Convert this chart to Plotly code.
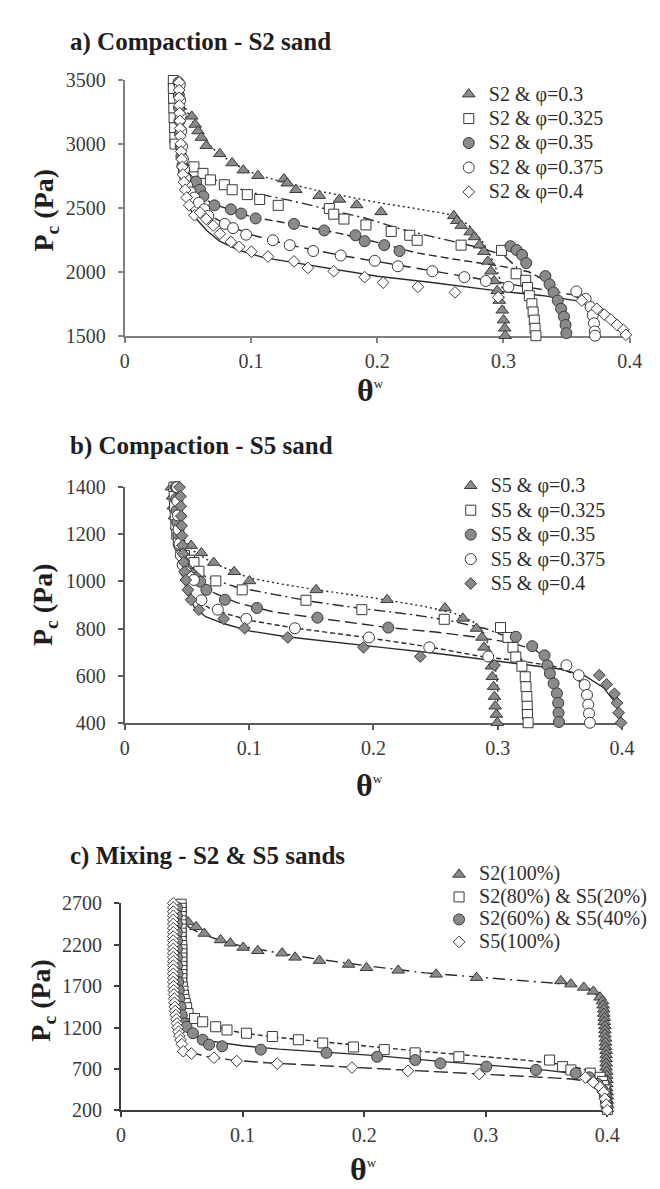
import plotly.graph_objects as go

W, H = 660, 1189
FONT = "Liberation Serif, Times New Roman, Tinos, Nimbus Roman, DejaVu Serif, serif"

# ---------------- Panel a: Compaction - S2 sand ----------------
a_x_ticks = [0, 0.1, 0.2, 0.3, 0.4]
a_x_labels = ["0", "0.1", "0.2", "0.3", "0.4"]
a_y_ticks = [1500, 2000, 2500, 3000, 3500]
a_y_labels = ["1500", "2000", "2500", "3000", "3500"]
a_names = ["S2 & φ=0.3", "S2 & φ=0.325", "S2 & φ=0.35", "S2 & φ=0.375", "S2 & φ=0.4"]

a_p300_x = [0.053, 0.0557, 0.058, 0.0606, 0.0645, 0.0752, 0.085, 0.0938, 0.1055, 0.126, 0.1287, 0.1355, 0.154, 0.170,
            0.1837, 0.203, 0.2606, 0.263, 0.2665, 0.2736, 0.277, 0.281, 0.2844, 0.2876, 0.29, 0.2925, 0.295, 0.2967,
            0.299, 0.300, 0.301, 0.3013]
a_p300_y = [3215, 3151, 3100, 3049, 2985, 2922, 2850, 2794, 2751, 2725, 2692, 2641, 2595, 2565, 2522, 2468, 2437, 2399,
            2361, 2310, 2272, 2208, 2157, 2081, 2004, 1928, 1851, 1775, 1699, 1622, 1558, 1500]
a_p325_x = [0.0384, 0.0384, 0.0386, 0.0388, 0.039, 0.0394, 0.0396, 0.0398, 0.0547, 0.0619, 0.0678, 0.0788, 0.085,
            0.097, 0.1068, 0.1215, 0.162, 0.1655, 0.1736, 0.191, 0.211, 0.2257, 0.2316, 0.2664, 0.2984, 0.310, 0.3176,
            0.319, 0.3205, 0.3225, 0.3235, 0.3244, 0.325, 0.3257]
a_p325_y = [3495, 3431, 3355, 3278, 3202, 3125, 3049, 2998, 2820, 2769, 2718, 2680, 2641, 2603, 2565, 2519, 2494, 2450,
            2412, 2366, 2315, 2285, 2246, 2208, 2167, 1984, 1933, 1877, 1813, 1750, 1686, 1622, 1558, 1500]
a_p350_x = [0.0425, 0.0428, 0.043, 0.0433, 0.0437, 0.0442, 0.0448, 0.0456, 0.0466, 0.048, 0.050,
            0.0564, 0.0596, 0.0622, 0.071, 0.084, 0.0922, 0.1036, 0.134, 0.158, 0.1827, 0.19, 0.2055, 0.2176, 0.3055,
            0.3104, 0.3147, 0.318, 0.3332, 0.3365, 0.3397, 0.343, 0.3456, 0.3479, 0.3492, 0.3498]
a_p350_y = [3480, 3380, 3280, 3180, 3080, 2980, 2900, 2830, 2780, 2740, 2720,
            2705, 2641, 2590, 2519, 2488, 2455, 2417, 2374, 2323, 2285, 2239, 2208, 2162, 2200, 2170, 2132, 2068, 1966,
            1902, 1839, 1775, 1711, 1648, 1584, 1520]
a_p375_x = [0.0435, 0.0438, 0.0442, 0.0447, 0.0453, 0.046, 0.047, 0.048, 0.0495, 0.052, 0.055,
            0.0586, 0.0629, 0.0661, 0.0792, 0.0857, 0.0961, 0.1173, 0.1306, 0.1492, 0.171, 0.198, 0.2163, 0.2436, 0.269,
            0.286, 0.3039, 0.3577, 0.3651, 0.369, 0.3707, 0.3717, 0.3723, 0.3725]
a_p375_y = [3460, 3340, 3220, 3100, 2980, 2880, 2800, 2730, 2670, 2620, 2580,
            2539, 2488, 2437, 2374, 2341, 2290, 2246, 2208, 2162, 2127, 2086, 2043, 2004, 1958, 1928, 1882, 1846, 1788,
            1724, 1660, 1597, 1533, 1500]
a_p400_x = [0.043, 0.043, 0.043, 0.0432, 0.0434, 0.0436, 0.0438, 0.044, 0.0443, 0.0446, 0.045, 0.0455, 0.046, 0.0468,
            0.0478, 0.049, 0.051, 0.0552, 0.0596, 0.0645, 0.070, 0.0752, 0.084, 0.0906, 0.1003, 0.1134, 0.134, 0.145,
            0.1655, 0.19, 0.2046, 0.2322, 0.2616, 0.2958, 0.362, 0.374, 0.380, 0.385, 0.390, 0.395, 0.397]
a_p400_y = [3480, 3420, 3360, 3300, 3240, 3180, 3120, 3060, 3000, 2940, 2880, 2820, 2760, 2700, 2640, 2580, 2520, 2442,
            2463, 2412, 2361, 2297, 2234, 2195, 2157, 2119, 2081, 2030, 2004, 1958, 1915, 1882, 1839, 1800, 1775, 1711,
            1665, 1627, 1584, 1546, 1507]

a_fit300_x = [0.040, 0.043, 0.047, 0.052, 0.06, 0.07, 0.085, 0.105, 0.13, 0.154, 0.18, 0.204, 0.23, 0.256, 0.272, 0.283,
              0.29, 0.296, 0.300, 0.301, 0.301]
a_fit300_y = [3500, 3400, 3300, 3200, 3080, 2960, 2850, 2755, 2690, 2630, 2580, 2535, 2495, 2450, 2370, 2240, 2120, 1980,
              1830, 1650, 1500]
a_fit325_x = [0.036, 0.037, 0.039, 0.042, 0.048, 0.06, 0.08, 0.1, 0.13, 0.16, 0.19, 0.22, 0.25, 0.28, 0.3, 0.31, 0.317,
              0.322, 0.325, 0.326]
a_fit325_y = [3500, 3300, 3100, 2950, 2850, 2770, 2680, 2620, 2560, 2490, 2420, 2330, 2260, 2190, 2130, 2040, 1930, 1800,
              1650, 1500]
a_fit350_x = [0.041, 0.042, 0.044, 0.048, 0.055, 0.07, 0.1, 0.134, 0.17, 0.2, 0.23, 0.26, 0.3, 0.32, 0.335, 0.343, 0.348,
              0.35]
a_fit350_y = [3500, 3200, 2900, 2720, 2620, 2530, 2430, 2370, 2300, 2230, 2150, 2100, 2040, 2000, 1920, 1780, 1640, 1500]
a_fit375_x = [0.042, 0.043, 0.045, 0.05, 0.06, 0.08, 0.1, 0.13, 0.17, 0.2, 0.24, 0.27, 0.3, 0.33, 0.355, 0.365, 0.371,
              0.374, 0.375]
a_fit375_y = [3500, 3100, 2800, 2600, 2480, 2370, 2290, 2210, 2130, 2080, 2010, 1960, 1910, 1860, 1820, 1760, 1660, 1560,
              1500]
a_fit400_x = [0.043, 0.044, 0.046, 0.05, 0.056, 0.065, 0.075, 0.09, 0.11, 0.14, 0.17, 0.2, 0.24, 0.27, 0.3, 0.33, 0.36,
              0.38, 0.39, 0.397, 0.4]
a_fit400_y = [3500, 3000, 2700, 2520, 2420, 2320, 2240, 2170, 2110, 2060, 2010, 1965, 1920, 1880, 1845, 1815, 1770, 1700,
              1620, 1550, 1500]

# ---------------- Panel b: Compaction - S5 sand ----------------
b_x_ticks = [0, 0.1, 0.2, 0.3, 0.4]
b_x_labels = ["0", "0.1", "0.2", "0.3", "0.4"]
b_y_ticks = [400, 600, 800, 1000, 1200, 1400]
b_y_labels = ["400", "600", "800", "1000", "1200", "1400"]
b_names = ["S5 & φ=0.3", "S5 & φ=0.325", "S5 & φ=0.35", "S5 & φ=0.375", "S5 & φ=0.4"]

b_p300_x = [0.0374, 0.0384, 0.039, 0.040, 0.0417, 0.044, 0.0533, 0.0616, 0.0715, 0.088, 0.1003, 0.154, 0.211, 0.2576,
            0.272, 0.283, 0.2874, 0.289, 0.295, 0.2957, 0.2967, 0.2974, 0.298, 0.299, 0.2997]
b_p300_y = [1400, 1361, 1319, 1277, 1236, 1194, 1152, 1121, 1080, 1041, 1002, 964, 922, 887, 843, 800, 762, 720, 640, 595,
            553, 511, 470, 435, 400]
b_p325_x = [0.0395, 0.0397, 0.04, 0.0405, 0.041, 0.0418, 0.043, 0.045, 0.048, 0.052,
            0.0556, 0.0596, 0.0732, 0.0944, 0.1457, 0.1907, 0.257, 0.3023, 0.3083, 0.3123, 0.3146, 0.3195, 0.3222,
            0.3228, 0.3235, 0.3238, 0.324, 0.3245]
b_p325_y = [1400, 1360, 1320, 1280, 1240, 1200, 1170, 1140, 1110, 1090,
            1080, 1043, 1002, 964, 920, 880, 839, 804, 762, 720, 679, 640, 595, 553, 511, 470, 435, 400]
b_p350_x = [0.041, 0.0413, 0.0417, 0.0422, 0.043, 0.044, 0.0455, 0.0475, 0.05, 0.054, 0.057,
            0.0606, 0.0656, 0.0805, 0.1063, 0.155, 0.212, 0.3146, 0.3278, 0.3377, 0.340, 0.342, 0.345, 0.3477, 0.3487,
            0.349, 0.3493]
b_p350_y = [1400, 1350, 1300, 1250, 1200, 1150, 1110, 1080, 1050, 1030, 1015,
            999, 964, 922, 887, 846, 804, 765, 725, 686, 644, 609, 567, 525, 484, 442, 403]
b_p375_x = [0.042, 0.0423, 0.0427, 0.0432, 0.044, 0.045, 0.0465, 0.049, 0.052,
            0.0556, 0.0616, 0.0748, 0.0977, 0.1368, 0.1964, 0.245, 0.2924, 0.3553, 0.3652, 0.370, 0.3719, 0.3729,
            0.3735, 0.3742]
b_p375_y = [1400, 1340, 1280, 1220, 1160, 1110, 1070, 1040, 1020,
            1006, 920, 880, 841, 801, 762, 720, 681, 644, 602, 560, 518, 477, 439, 400]
b_p400_x = [0.044, 0.0447, 0.045, 0.0454, 0.0457, 0.046, 0.0464, 0.0467, 0.0474, 0.048, 0.049, 0.0507, 0.0533, 0.0596,
            0.0795, 0.0964, 0.1311, 0.192, 0.2377, 0.2974, 0.3818, 0.3877, 0.394, 0.396, 0.3974, 0.3993]
b_p400_y = [1400, 1361, 1319, 1277, 1236, 1194, 1152, 1117, 1082, 1041, 1006, 964, 922, 880, 841, 801, 762, 720, 681,
            644, 602, 563, 523, 484, 442, 400]

b_fit300_x = [0.037, 0.039, 0.042, 0.047, 0.055, 0.07, 0.1, 0.13, 0.16, 0.2, 0.24, 0.265, 0.28, 0.288, 0.294, 0.298,
              0.3, 0.3]
b_fit300_y = [1400, 1300, 1230, 1180, 1130, 1080, 1015, 985, 960, 930, 895, 865, 830, 790, 710, 640, 550, 400]
b_fit325_x = [0.039, 0.041, 0.045, 0.052, 0.065, 0.09, 0.12, 0.15, 0.19, 0.23, 0.26, 0.29, 0.305, 0.315, 0.32, 0.323,
              0.325]
b_fit325_y = [1400, 1250, 1130, 1070, 1020, 975, 945, 915, 885, 860, 835, 800, 770, 720, 660, 580, 400]
b_fit350_x = [0.041, 0.043, 0.047, 0.055, 0.07, 0.09, 0.12, 0.155, 0.21, 0.25, 0.285, 0.31, 0.33, 0.34, 0.345, 0.348,
              0.35]
b_fit350_y = [1400, 1200, 1080, 1010, 955, 910, 870, 845, 805, 785, 762, 740, 710, 670, 600, 520, 400]
b_fit375_x = [0.042, 0.044, 0.048, 0.055, 0.07, 0.1, 0.135, 0.19, 0.245, 0.288, 0.315, 0.345, 0.36, 0.368, 0.373,
              0.375]
b_fit375_y = [1400, 1150, 1000, 930, 880, 835, 803, 765, 722, 680, 665, 640, 610, 560, 480, 400]
b_fit400_x = [0.043, 0.044, 0.046, 0.05, 0.056, 0.065, 0.08, 0.1, 0.13, 0.17, 0.21, 0.25, 0.29, 0.32, 0.35, 0.37,
              0.385, 0.394, 0.399, 0.4]
b_fit400_y = [1400, 1200, 1050, 950, 890, 850, 820, 790, 765, 740, 718, 695, 668, 648, 628, 600, 550, 490, 430, 400]

# ---------------- Panel c: Mixing - S2 & S5 sands ----------------
c_x_ticks = [0, 0.1, 0.2, 0.3, 0.4]
c_x_labels = ["0", "0.1", "0.2", "0.3", "0.4"]
c_y_ticks = [200, 700, 1200, 1700, 2200, 2700]
c_y_labels = ["200", "700", "1200", "1700", "2200", "2700"]
c_names = ["S2(100%)", "S2(80%) & S5(20%)", "S2(60%) & S5(40%)", "S5(100%)"]

c_s2_x = [0.0552, 0.0618, 0.0685, 0.0819, 0.0899, 0.1005, 0.1125, 0.1325, 0.1432, 0.1632, 0.1872, 0.2019, 0.228, 0.2592,
          0.2925, 0.3618, 0.37, 0.3806, 0.3885, 0.394,
          0.396, 0.3965, 0.397, 0.397, 0.3975, 0.3975, 0.398, 0.398, 0.398, 0.3985, 0.3985, 0.3985, 0.399, 0.399, 0.399,
          0.399, 0.399, 0.3995, 0.3995, 0.3995, 0.3995, 0.3995, 0.4, 0.4, 0.4, 0.4, 0.4]
c_s2_y = [2475, 2416, 2336, 2258, 2218, 2167, 2127, 2099, 2048, 2009, 1962, 1922, 1891, 1843, 1803, 1764, 1725, 1685,
          1637, 1566,
          1520, 1470, 1420, 1370, 1320, 1270, 1220, 1170, 1120, 1070, 1020, 970, 920, 870, 820, 770, 720, 670, 620, 570,
          520, 470, 420, 370, 320, 270, 220]
c_s2s5_82_x = [0.0495, 0.0495, 0.0495, 0.0495, 0.0495, 0.0495, 0.0495, 0.0495, 0.0495, 0.0495, 0.05, 0.05, 0.05, 0.05,
               0.05, 0.05, 0.05, 0.05, 0.05, 0.05, 0.0505, 0.051, 0.0515, 0.052, 0.053, 0.054,
               0.0552, 0.0605, 0.0672, 0.0779, 0.0872, 0.1032, 0.1245, 0.1459, 0.1659, 0.1912, 0.2165, 0.2419, 0.2779,
               0.3525, 0.3632, 0.37, 0.386,
               0.394, 0.396, 0.397, 0.398, 0.398, 0.399, 0.399, 0.4, 0.4]
c_s2s5_82_y = [2690, 2640, 2590, 2540, 2490, 2440, 2390, 2340, 2290, 2240, 2190, 2140, 2090, 2040, 1990, 1940, 1890, 1840,
               1790, 1740, 1690, 1640, 1590, 1540, 1490, 1440,
               1369, 1310, 1270, 1210, 1171, 1132, 1092, 1053, 1014, 966, 934, 895, 848, 808, 729, 689, 650,
               600, 550, 500, 450, 400, 350, 300, 250, 210]
c_s2s5_64_x = [0.046, 0.046, 0.046, 0.046, 0.046, 0.046, 0.046, 0.046, 0.0465, 0.047, 0.0475, 0.048, 0.049, 0.050, 0.052,
               0.0539, 0.0592, 0.0672, 0.0725, 0.0832, 0.115, 0.169, 0.2107, 0.242, 0.2627, 0.3005, 0.3413, 0.374,
               0.385, 0.392, 0.396, 0.398, 0.399, 0.4]
c_s2s5_64_y = [2650, 2550, 2450, 2350, 2250, 2150, 2050, 1950, 1850, 1750, 1650, 1550, 1450, 1350, 1250,
               1210, 1132, 1053, 994, 974, 934, 895, 848, 808, 768, 729, 689, 650,
               600, 520, 450, 380, 300, 230]
c_s5_x = [0.043, 0.043, 0.043, 0.043, 0.043, 0.043, 0.043, 0.043, 0.043, 0.043, 0.043, 0.043, 0.043, 0.043, 0.043, 0.043,
          0.043, 0.043, 0.043, 0.043, 0.0432, 0.0434, 0.0436, 0.0438, 0.044, 0.0443, 0.0446, 0.045, 0.0455, 0.046,
          0.0466, 0.0473, 0.048, 0.049, 0.05,
          0.0512, 0.0579, 0.0765, 0.0952, 0.1285, 0.19, 0.236, 0.2947, 0.3819, 0.3885, 0.394, 0.397, 0.398, 0.399, 0.4]
c_s5_y = [2700, 2650, 2600, 2550, 2500, 2450, 2400, 2350, 2300, 2250, 2200, 2150, 2100, 2050, 2000, 1950, 1900, 1850,
          1800, 1750, 1700, 1650, 1600, 1550, 1500, 1450, 1400, 1350, 1300, 1250, 1200, 1150, 1100, 1050, 1000,
          914, 887, 836, 796, 765, 717, 677, 638, 599, 540, 480, 420, 341, 270, 204]

c_fit_s2_x = [0.05, 0.05, 0.052, 0.056, 0.065, 0.08, 0.1, 0.13, 0.16, 0.2, 0.25, 0.3, 0.34, 0.37, 0.385, 0.392, 0.396,
              0.398, 0.399, 0.4]
c_fit_s2_y = [2700, 2550, 2470, 2410, 2340, 2260, 2180, 2100, 2030, 1950, 1860, 1800, 1760, 1720, 1670, 1580, 1450, 1200,
              800, 200]
c_fit_82_x = [0.05, 0.05, 0.051, 0.054, 0.06, 0.07, 0.085, 0.1, 0.13, 0.17, 0.21, 0.25, 0.29, 0.33, 0.36, 0.38, 0.39,
              0.396, 0.399, 0.4]
c_fit_82_y = [2700, 2000, 1600, 1420, 1320, 1250, 1180, 1135, 1080, 1020, 965, 910, 860, 810, 760, 700, 640, 560, 420, 200]
c_fit_64_x = [0.047, 0.047, 0.048, 0.05, 0.055, 0.062, 0.072, 0.085, 0.1, 0.13, 0.17, 0.21, 0.26, 0.3, 0.34, 0.37,
              0.385, 0.393, 0.397, 0.4]
c_fit_64_y = [2700, 1800, 1400, 1250, 1150, 1090, 1040, 1010, 980, 940, 905, 862, 795, 748, 702, 650, 600, 520, 420, 200]
c_fit_s5_x = [0.043, 0.043, 0.044, 0.046, 0.05, 0.058, 0.07, 0.09, 0.12, 0.16, 0.2, 0.25, 0.3, 0.34, 0.37, 0.385, 0.394,
              0.398, 0.4]
c_fit_s5_y = [2700, 1800, 1300, 1100, 980, 900, 850, 810, 775, 745, 715, 680, 640, 605, 580, 550, 480, 380, 200]

# ---------------- figure ----------------
GRAY = "#8a8a8a"
EDGE = "#3a3a3a"
LINEC = "#2a2a2a"

fig = go.Figure()


def px(v):
    return v / W


def py(v):
    return 1 - v / H


def add_line(x, y, dash, xa, ya):
    fig.add_trace(go.Scatter(x=x, y=y, mode="lines", showlegend=False, hoverinfo="skip",
                             line=dict(color=LINEC, width=1.4, dash=dash), xaxis=xa, yaxis=ya))


def add_markers(x, y, name, symbol, fill, size, xa, ya, legend):
    fig.add_trace(go.Scatter(x=x, y=y, mode="markers",
                             name="<span style='font-size:20px'>" + name + "</span>", cliponaxis=False,
                             marker=dict(symbol=symbol, color=fill, size=size, line=dict(color=EDGE, width=1)),
                             xaxis=xa, yaxis=ya, legend=legend))


DOT = "2px,3px"
LDASHDOT = "11px,4px,2px,4px"
DASH = "8px,4px"
LDASH = "13px,6px"
SDASH = "5px,3px"

# panel a
add_line(a_fit300_x, a_fit300_y, DOT, "x", "y")
add_line(a_fit325_x, a_fit325_y, LDASHDOT, "x", "y")
add_line(a_fit350_x, a_fit350_y, DASH, "x", "y")
add_line(a_fit375_x, a_fit375_y, LDASH, "x", "y")
add_line(a_fit400_x, a_fit400_y, "solid", "x", "y")
add_markers(a_p300_x, a_p300_y, a_names[0], "triangle-up", GRAY, 11, "x", "y", "legend")
add_markers(a_p325_x, a_p325_y, a_names[1], "square", "white", 10, "x", "y", "legend")
add_markers(a_p350_x, a_p350_y, a_names[2], "circle", GRAY, 11, "x", "y", "legend")
add_markers(a_p375_x, a_p375_y, a_names[3], "circle", "white", 11, "x", "y", "legend")
add_markers(a_p400_x, a_p400_y, a_names[4], "diamond", "white", 9, "x", "y", "legend")

# panel b
add_line(b_fit300_x, b_fit300_y, DOT, "x2", "y2")
add_line(b_fit325_x, b_fit325_y, LDASHDOT, "x2", "y2")
add_line(b_fit350_x, b_fit350_y, "12px,5px", "x2", "y2")
add_line(b_fit375_x, b_fit375_y, SDASH, "x2", "y2")
add_line(b_fit400_x, b_fit400_y, "solid", "x2", "y2")
add_markers(b_p300_x, b_p300_y, b_names[0], "triangle-up", GRAY, 11, "x2", "y2", "legend2")
add_markers(b_p325_x, b_p325_y, b_names[1], "square", "white", 10, "x2", "y2", "legend2")
add_markers(b_p350_x, b_p350_y, b_names[2], "circle", GRAY, 11, "x2", "y2", "legend2")
add_markers(b_p375_x, b_p375_y, b_names[3], "circle", "white", 11, "x2", "y2", "legend2")
add_markers(b_p400_x, b_p400_y, b_names[4], "diamond", GRAY, 9, "x2", "y2", "legend2")

# panel c
add_line(c_fit_s2_x, c_fit_s2_y, "12px,5px,2px,5px", "x3", "y3")
add_line(c_fit_82_x, c_fit_82_y, SDASH, "x3", "y3")
add_line(c_fit_64_x, c_fit_64_y, "solid", "x3", "y3")
add_line(c_fit_s5_x, c_fit_s5_y, "14px,5px", "x3", "y3")
add_markers(c_s2_x, c_s2_y, c_names[0], "triangle-up", GRAY, 11, "x3", "y3", "legend3")
add_markers(c_s2s5_82_x, c_s2s5_82_y, c_names[1], "square", "white", 10, "x3", "y3", "legend3")
add_markers(c_s2s5_64_x, c_s2s5_64_y, c_names[2], "circle", GRAY, 11, "x3", "y3", "legend3")
add_markers(c_s5_x, c_s5_y, c_names[3], "diamond", "white", 9, "x3", "y3", "legend3")


def xaxis(dom, ticks, labels, anchor, color):
    return dict(domain=dom, range=[0, 0.4], tickvals=ticks, ticktext=labels, anchor=anchor,
                showline=True, linecolor=color, linewidth=2, ticks="outside", ticklen=5, tickwidth=1.5,
                tickcolor=color, showgrid=False, zeroline=False, layer="below traces", fixedrange=True,
                ticklabelstandoff=1, tickfont=dict(family=FONT, size=20, color="#3a3a3a"))


def yaxis(dom, rng, ticks, labels, anchor, color):
    return dict(domain=dom, range=rng, tickvals=ticks, ticktext=labels, anchor=anchor,
                showline=True, linecolor=color, linewidth=2, ticks="outside", ticklen=5, tickwidth=1.5,
                tickcolor=color, showgrid=False, zeroline=False, layer="below traces", fixedrange=True,
                ticklabelstandoff=8, tickfont=dict(family=FONT, size=20, color="#3a3a3a"))


def legend(xp, yp, base):
    return dict(x=px(xp), y=py(yp), xanchor="left", yanchor="top", bgcolor="rgba(0,0,0,0)",
                font=dict(family=FONT, size=base, color="#2e2e2e"), tracegroupgap=0, itemclick=False,
                itemdoubleclick=False)


annotations = []
titles = [("a) Compaction - S2 sand", 23), ("b) Compaction - S5 sand", 435), ("c) Mixing - S2 & S5 sands", 853)]
for t, yp in titles:
    annotations.append(dict(text="<b>" + t + "</b>", x=px(57), y=py(yp), xref="paper", yref="paper",
                            xanchor="left", yanchor="middle", showarrow=False,
                            font=dict(family=FONT, size=25, color="#1e1e1e")))
for xp, yp in [(33, 195), (33, 597), (30, 1000)]:
    annotations.append(dict(text="<b>P<sub>c</sub> (Pa)</b>", x=px(xp), y=py(yp), xref="paper", yref="paper",
                            xanchor="center", yanchor="middle", textangle=-90, showarrow=False,
                            font=dict(family=FONT, size=28, color="#1e1e1e")))
for xp, yp in [(368, 378), (366, 780), (360, 1172)]:
    annotations.append(dict(text="<b>θ</b><sup><span style='font-size:13px'>w</span></sup>", x=px(xp), y=py(yp),
                            xref="paper", yref="paper", xanchor="center", yanchor="middle", showarrow=False,
                            font=dict(family=FONT, size=32, color="#1e1e1e")))

fig.update_layout(
    width=W, height=H, margin=dict(l=0, r=0, t=0, b=0),
    paper_bgcolor="white", plot_bgcolor="white",
    xaxis=xaxis([px(115), px(634)], a_x_ticks, a_x_labels, "y", "#808080"),
    yaxis=yaxis([py(322.7), py(62)], [1500, 3500], a_y_ticks, a_y_labels, "x", "#808080"),
    xaxis2=xaxis([px(115), px(626)], b_x_ticks, b_x_labels, "y2", "#5e5e5e"),
    yaxis2=yaxis([py(717), py(477)], [400, 1400], b_y_ticks, b_y_labels, "x2", "#5e5e5e"),
    xaxis3=xaxis([px(111), px(611)], c_x_ticks, c_x_labels, "y3", "#3e3e3e"),
    yaxis3=yaxis([py(1112), py(901)], [200, 2700], c_y_ticks, c_y_labels, "x3", "#3e3e3e"),
    legend=legend(448, 59, 16.5),
    legend2=legend(450, 458, 16.5),
    legend3=legend(438, 855, 15),
    annotations=annotations,
    showlegend=True,
)

fig.write_html("out.html")
